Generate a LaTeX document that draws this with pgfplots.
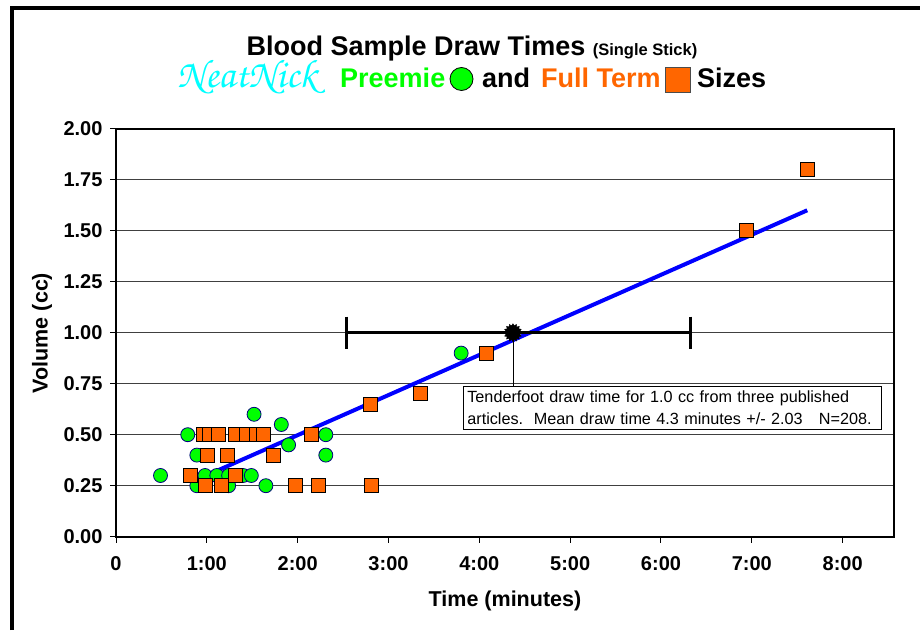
\documentclass[border=0pt]{standalone}
\usepackage{fontspec}
\setmainfont{Liberation Sans}
\newfontfamily\neatfont{texgyrechorus-mediumitalic.otf}
\usepackage{pgfplots}
\pgfplotsset{compat=1.18}
\usetikzlibrary{shapes.geometric}

\definecolor{preemie}{HTML}{00FF00}
\definecolor{fullterm}{HTML}{FF6600}
\definecolor{neat}{HTML}{00FFFF}
\definecolor{navyedge}{HTML}{000080}

% starburst mark for the published mean
\pgfdeclareplotmark{burst}{\node[star, star points=16, star point ratio=1.3, fill=black, draw=black, inner sep=0pt, minimum size=2\pgfplotmarksize] {};}

\begin{document}
\begin{tikzpicture}
\path[use as bounding box] (0,0) rectangle (920pt,630pt);
% chart area frame (cut off at right and bottom)
\draw[line width=4pt] (12pt,0) -- (12pt,622pt) -- (922pt,622pt);

\begin{axis}[
    at={(116pt,93.3pt)}, anchor=south west,
    scale only axis, width=777.5pt, height=408pt,
    xmin=0, xmax=8.56, ymin=0, ymax=2,
    xtick={0,1,2,3,4,5,6,7,8},
    xticklabels={0,1:00,2:00,3:00,4:00,5:00,6:00,7:00,8:00},
    ytick={0,0.25,0.5,0.75,1,1.25,1.5,1.75,2},
    /pgf/number format/assume math mode=true,
    yticklabel style={/pgf/number format/fixed, /pgf/number format/fixed zerofill, /pgf/number format/precision=2, xshift=-4pt},
    xticklabel style={yshift=-10pt},
    ticklabel style={font=\bfseries\fontsize{20}{24}\selectfont},
    tick pos=left, tick align=outside, major tick length=6pt,
    tick style={black, line width=1pt},
    axis line style={line width=2pt},
    ymajorgrids, grid style={black!75, line width=0.8pt},
]

% Preemie
\addplot[only marks, mark=*, mark size=7pt, mark options={fill=preemie, draw=navyedge, line width=0.8pt}]
    coordinates {
    (0.49,0.30) (0.79,0.50) (0.89,0.40) (0.89,0.25) (0.98,0.30)
    (1.11,0.30) (1.24,0.30) (1.24,0.25) (1.40,0.30) (1.49,0.30)
    (1.52,0.60) (1.65,0.25) (1.82,0.55) (1.90,0.45) (2.31,0.50)
    (2.31,0.40) (3.80,0.90)
    };

% Full term
\addplot[only marks, mark=square*, mark size=7pt, mark options={fill=fullterm, draw=black, line width=1pt}]
    coordinates {
    (0.96,0.50) (1.03,0.50) (1.13,0.50) (1.32,0.50) (1.44,0.50)
    (1.55,0.50) (1.62,0.50) (2.15,0.50)
    (1.01,0.40) (1.23,0.40) (1.73,0.40)
    (0.82,0.30) (1.32,0.30)
    (0.98,0.25) (1.16,0.25) (1.98,0.25) (2.23,0.25) (2.81,0.25)
    (2.80,0.65) (3.35,0.70) (4.08,0.90) (6.94,1.50) (7.61,1.80)
    };

% trend line
\addplot[blue, line width=4pt] coordinates {(0.815,0.265) (7.61,1.60)};

% published mean with spread
\addplot[black, line width=3pt, mark=|, mark size=16pt, mark options={line width=3pt}]
    coordinates {(2.54,1.0) (6.32,1.0)};
\draw[black, line width=0.8pt] (axis cs:4.37,1.0) -- (axis cs:4.37,0.739);
\addplot[only marks, mark=burst, mark size=9pt] coordinates {(4.37,1.0)};

\node[draw, fill=white, anchor=north west, align=left, inner xsep=4pt, inner ysep=4.5pt,
      text width=410pt, line width=0.8pt, font=\fontsize{16.2}{22}\selectfont]
    at (axis cs:3.82,0.739)
    {Tenderfoot draw time for 1.0 cc from three published\\articles.\ \ Mean draw time 4.3 minutes +/- 2.03\ \ \ N=208.};
\end{axis}

% axis titles
\node[font=\bfseries\fontsize{21.5}{26}\selectfont] at (505pt,29pt) {Time (minutes)};
\node[font=\bfseries\fontsize{21.5}{26}\selectfont, rotate=90] at (42pt,297pt) {Volume (cc)};

% chart title
\node[anchor=base, inner sep=0pt] at (472pt,574pt)
    {\bfseries\fontsize{27}{32}\selectfont Blood Sample Draw Times\ {\fontsize{16.5}{20}\selectfont(Single Stick)}};
\node[anchor=base west, inner sep=0pt] at (177pt,542pt) {\color{neat}\neatfont\fontsize{40}{46}\selectfont NeatNick};
\node[anchor=base west, inner sep=0pt] at (340pt,542pt) {\bfseries\fontsize{27}{32}\selectfont\color{preemie}Preemie};
\draw[fill=preemie, draw=black, line width=0.8pt] (461.5pt,551pt) circle (11.5pt);
\node[anchor=base west, inner sep=0pt] at (482pt,542pt) {\bfseries\fontsize{27}{32}\selectfont and};
\node[anchor=base west, inner sep=0pt] at (541pt,542pt) {\bfseries\fontsize{27}{32}\selectfont\color{fullterm}Full Term};
\draw[fill=fullterm, draw=black!70, line width=0.8pt] (665pt,538pt) rectangle (690pt,563pt);
\node[anchor=base west, inner sep=0pt] at (697pt,542pt) {\bfseries\fontsize{27}{32}\selectfont Sizes};
\end{tikzpicture}
\end{document}
